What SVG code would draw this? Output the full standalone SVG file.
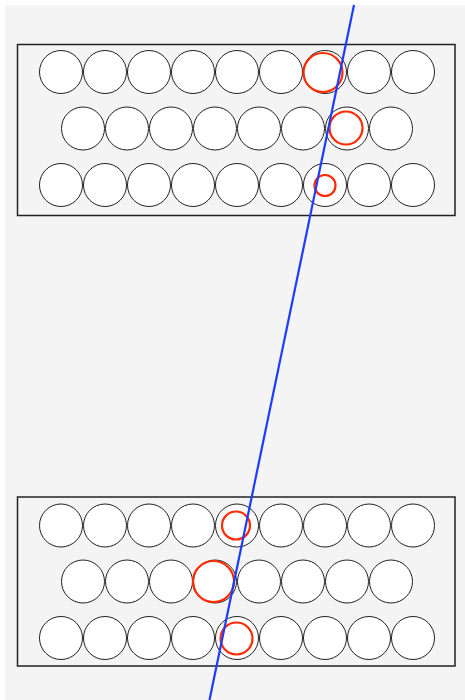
<svg xmlns="http://www.w3.org/2000/svg" width="465" height="700" viewBox="0 0 465 700">
<defs>
<style>
.bg{fill:#f4f4f4}
.box{fill:none;stroke:#222;stroke-width:1.5}
.c{fill:#fff;stroke:#222;stroke-width:1}
.r{fill:none;stroke:#ff2a00;stroke-width:2.2}
.ln{stroke:#1e3cff;stroke-width:2.2;fill:none}
</style>
<circle id="c" class="c" r="21.5"/>
</defs>
<rect class="bg" x="5" y="5" width="460" height="695"/>
<g id="top-box">
<rect class="box" x="17.5" y="44.5" width="437.5" height="171"/>
<g id="top-row1">
<use href="#c" x="61" y="72"/><use href="#c" x="105" y="72"/><use href="#c" x="149" y="72"/><use href="#c" x="193" y="72"/><use href="#c" x="237" y="72"/><use href="#c" x="281" y="72"/><use href="#c" x="325" y="72"/><use href="#c" x="369" y="72"/><use href="#c" x="413" y="72"/>
</g>
<g id="top-row2">
<use href="#c" x="83" y="128.5"/><use href="#c" x="127" y="128.5"/><use href="#c" x="171" y="128.5"/><use href="#c" x="215" y="128.5"/><use href="#c" x="259" y="128.5"/><use href="#c" x="303" y="128.5"/><use href="#c" x="347" y="128.5"/><use href="#c" x="391" y="128.5"/>
</g>
<g id="top-row3">
<use href="#c" x="61" y="185"/><use href="#c" x="105" y="185"/><use href="#c" x="149" y="185"/><use href="#c" x="193" y="185"/><use href="#c" x="237" y="185"/><use href="#c" x="281" y="185"/><use href="#c" x="325" y="185"/><use href="#c" x="369" y="185"/><use href="#c" x="413" y="185"/>
</g>
<g id="top-marks">
<circle class="r" cx="323" cy="72.5" r="19.5"/>
<circle class="r" cx="346" cy="128" r="16.5"/>
<circle class="r" cx="325" cy="185.5" r="10.5"/>
</g>
</g>
<g id="bottom-box">
<rect class="box" x="17.5" y="497" width="437.5" height="169"/>
<g id="bottom-row1">
<use href="#c" x="61" y="525.5"/><use href="#c" x="105" y="525.5"/><use href="#c" x="149" y="525.5"/><use href="#c" x="193" y="525.5"/><use href="#c" x="237" y="525.5"/><use href="#c" x="281" y="525.5"/><use href="#c" x="325" y="525.5"/><use href="#c" x="369" y="525.5"/><use href="#c" x="413" y="525.5"/>
</g>
<g id="bottom-row2">
<use href="#c" x="83" y="581.5"/><use href="#c" x="127" y="581.5"/><use href="#c" x="171" y="581.5"/><use href="#c" x="215" y="581.5"/><use href="#c" x="259" y="581.5"/><use href="#c" x="303" y="581.5"/><use href="#c" x="347" y="581.5"/><use href="#c" x="391" y="581.5"/>
</g>
<g id="bottom-row3">
<use href="#c" x="61" y="638"/><use href="#c" x="105" y="638"/><use href="#c" x="149" y="638"/><use href="#c" x="193" y="638"/><use href="#c" x="237" y="638"/><use href="#c" x="281" y="638"/><use href="#c" x="325" y="638"/><use href="#c" x="369" y="638"/><use href="#c" x="413" y="638"/>
</g>
<g id="bottom-marks">
<circle class="r" cx="236" cy="525.5" r="14"/>
<circle class="r" cx="213.5" cy="581.5" r="20.5"/>
<circle class="r" cx="236.5" cy="638.5" r="16"/>
</g>
</g>
<g id="connectors">
<line class="ln" x1="354" y1="5" x2="209.5" y2="700"/>
</g>
</svg>
